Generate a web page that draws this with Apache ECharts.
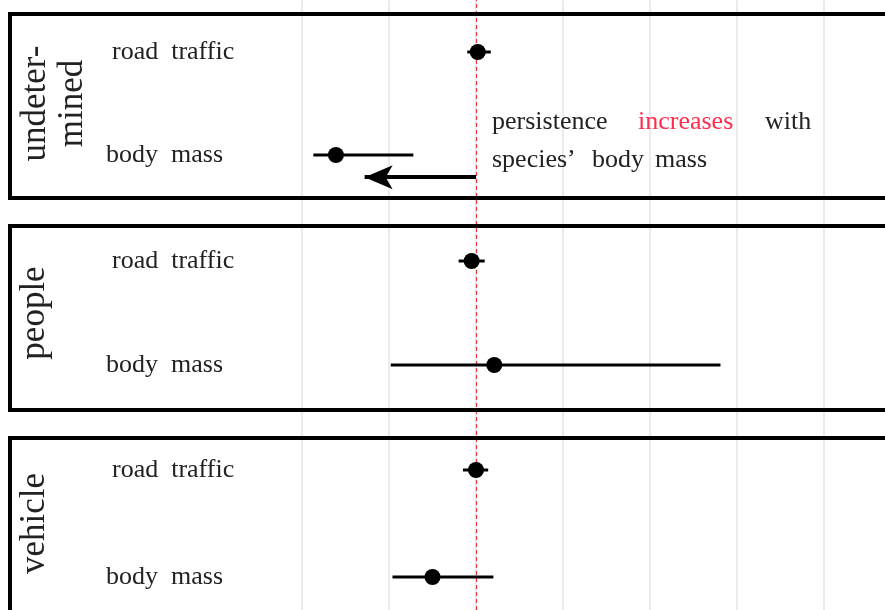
<!DOCTYPE html>
<html>
<head>
<meta charset="utf-8">
<script src="https://cdn.jsdelivr.net/npm/echarts@6/dist/echarts.min.js"></script>
<style>
  html, body { margin: 0; padding: 0; background: #fff; }
  #chart { width: 885px; height: 610px; }
</style>
</head>
<body>
<div id="chart"></div>
<script>
// facets (strip labels) and the two rows in each one
var panels = ['undeter-\nmined', 'people', 'vehicle'];
var rows = ['road\u2002traffic', 'body\u2002mass'];

// estimate with lower / upper bound, order = rows
var estUndetermined = [0.02, -1.61];
var lowUndetermined = [-0.10, -1.87];
var highUndetermined = [0.17, -0.72];

var estPeople = [-0.05, 0.21];
var lowPeople = [-0.20, -0.98];
var highPeople = [0.10, 2.81];

var estVehicle = [0.00, -0.50];
var lowVehicle = [-0.15, -0.96];
var highVehicle = [0.14, 0.20];

// reference line and the "increases" arrow (undetermined panel)
var refValue = 0;
var arrowStart = 0;
var arrowEnd = -1.28;
var arrowRow = 1.216;

var estimates = [estUndetermined, estPeople, estVehicle];
var lows = [lowUndetermined, lowPeople, lowVehicle];
var highs = [highUndetermined, highPeople, highVehicle];

// layout (pixels)
var boxTop = [14, 226, 438];
var boxHeight = 184;
var rowTop = [52, 261, 470];
var rowGap = [103, 104, 107];
var serif = '"Liberation Serif", "Times New Roman", serif';

var chart = echarts.init(document.getElementById('chart'));

function renderBar(params, api) {
  var r = api.value(0);
  var lo = api.coord([api.value(1), r]);
  var hi = api.coord([api.value(2), r]);
  var mid = api.coord([api.value(3), r]);
  return {
    type: 'group',
    children: [
      { type: 'line', shape: { x1: lo[0], y1: lo[1], x2: hi[0], y2: hi[1] },
        style: { stroke: '#000', lineWidth: 3 } },
      { type: 'circle', shape: { cx: mid[0], cy: mid[1], r: 8 },
        style: { fill: '#000' } }
    ]
  };
}

var grids = [];
var xAxes = [];
var yAxes = [];
var series = [];

// background grid: vertical grid lines over the whole height
grids.push({ left: 302, top: 0, width: 609, height: 610, outerBoundsMode: 'none' });
xAxes.push({
  gridIndex: 0, type: 'value', min: -2, max: 5, interval: 1,
  axisLine: { show: false }, axisTick: { show: false }, axisLabel: { show: false },
  splitLine: { show: true, lineStyle: { color: '#e4e4e4', width: 1.5 } }
});
yAxes.push({ gridIndex: 0, type: 'value', min: 0, max: 1, show: false });
series.push({
  type: 'line', xAxisIndex: 0, yAxisIndex: 0, data: [], silent: true,
  markLine: {
    silent: true, symbol: 'none', animation: false,
    label: { show: false },
    lineStyle: { color: '#e8343f', width: 1.2, type: [4, 3] },
    data: [{ xAxis: refValue }]
  }
});

panels.forEach(function (name, i) {
  var g = i + 1;
  grids.push({
    left: 302, width: 609,
    top: rowTop[i] - rowGap[i], height: rowGap[i] * 3,
    outerBoundsMode: 'none'
  });
  xAxes.push({ gridIndex: g, type: 'value', min: -2, max: 5, show: false });
  yAxes.push({
    gridIndex: g, type: 'value', inverse: true, min: -1, max: 2, interval: 1,
    axisLine: { show: false }, axisTick: { show: false }, splitLine: { show: false },
    axisLabel: {
      margin: 196, align: 'left',
      fontFamily: serif, fontSize: 26, color: '#222',
      formatter: function (v) {
        if (!rows[v]) return '';
        return v === 0 ? '{top|' + rows[v] + '}' : rows[v];
      },
      rich: {
        top: { fontFamily: serif, fontSize: 26, color: '#222', padding: [0, 0, 0, 6] }
      }
    },
    name: name, nameLocation: 'middle', nameRotate: 90,
    nameGap: i === 0 ? 248 : 267,
    nameTextStyle: {
      fontFamily: serif, fontSize: 35, color: '#222',
      lineHeight: 37, align: 'center', verticalAlign: 'middle'
    }
  });
  var data = rows.map(function (r, k) {
    return [k, lows[i][k], highs[i][k], estimates[i][k]];
  });
  series.push({
    type: 'custom', xAxisIndex: g, yAxisIndex: g,
    renderItem: renderBar, data: data, z: 5,
    encode: { x: [1, 2, 3], y: 0 }
  });
});

// arrow in the undetermined panel
series.push({
  type: 'line', xAxisIndex: 1, yAxisIndex: 1, data: [], silent: true,
  markLine: {
    silent: true, animation: false,
    symbol: ['none', 'arrow'], symbolSize: [18, 28],
    label: { show: false },
    lineStyle: { color: '#000', width: 4, type: 'solid' },
    data: [[{ coord: [arrowStart, arrowRow] }, { coord: [arrowEnd, arrowRow] }]]
  }
});

var graphics = boxTop.map(function (t) {
  return {
    type: 'rect', z: 20, silent: true,
    shape: { x: 10, y: t, width: 900, height: boxHeight },
    style: { fill: 'none', stroke: '#000', lineWidth: 4 }
  };
});

function word(text, x, y, color) {
  return {
    type: 'text', x: x, y: y, z: 20, silent: true,
    style: {
      text: text, fill: color || '#222', fontFamily: serif, fontSize: 26,
      align: 'left', verticalAlign: 'middle'
    }
  };
}
graphics.push(word('persistence', 492, 122));
graphics.push(word('increases', 638, 122, '#ff2d4d'));
graphics.push(word('with', 765, 122));
graphics.push(word('species\u2019', 492, 160));
graphics.push(word('body', 592, 160));
graphics.push(word('mass', 655, 160));

chart.setOption({
  animation: false,
  backgroundColor: '#fff',
  grid: grids,
  xAxis: xAxes,
  yAxis: yAxes,
  series: series,
  graphic: graphics
});
</script>
</body>
</html>
